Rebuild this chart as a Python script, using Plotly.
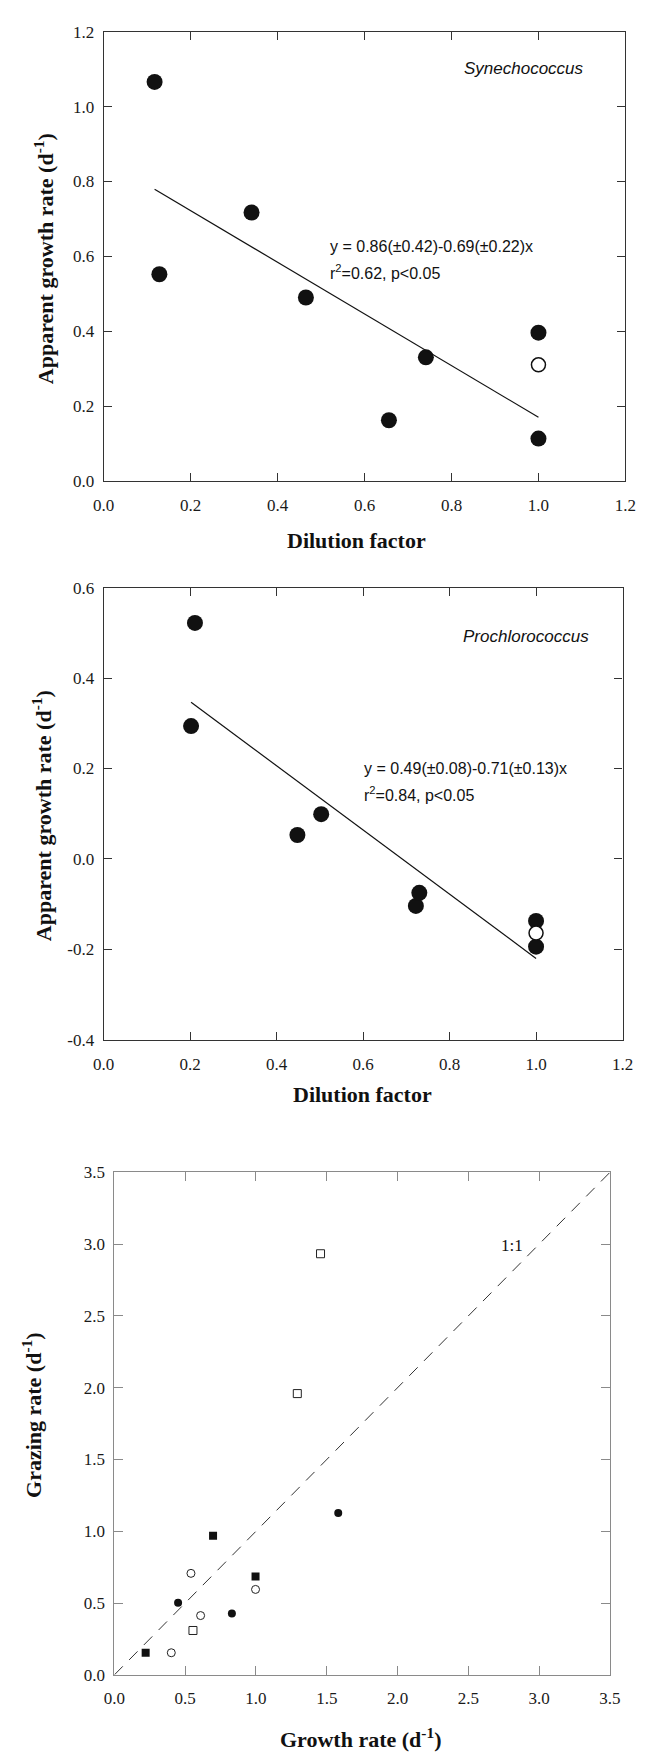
import plotly.graph_objects as go

W, H = 648, 1764

# ---------------- data ----------------
# Panel 1: Synechococcus
syn_x = [0.117, 0.128, 0.340, 0.465, 0.656, 0.741, 1.0, 1.0]
syn_y = [1.066, 0.552, 0.717, 0.490, 0.162, 0.330, 0.396, 0.113]
syn_open_x = [1.0]
syn_open_y = [0.31]
syn_intercept, syn_slope = 0.86, -0.69
syn_eq = ["y = 0.86(±0.42)-0.69(±0.22)x", "r<sup>2</sup>=0.62, p&lt;0.05"]

# Panel 2: Prochlorococcus
pro_x = [0.211, 0.202, 0.448, 0.503, 0.722, 0.730, 1.0, 1.0]
pro_y = [0.522, 0.294, 0.053, 0.099, -0.104, -0.075, -0.137, -0.194]
pro_open_x = [1.0]
pro_open_y = [-0.164]
pro_intercept, pro_slope = 0.49, -0.71
pro_eq = ["y = 0.49(±0.08)-0.71(±0.13)x", "r<sup>2</sup>=0.84, p&lt;0.05"]

# Panel 3: growth vs grazing
fsq_x = [0.221, 0.697, 0.997]
fsq_y = [0.154, 0.968, 0.685]
osq_x = [0.555, 1.292, 1.456]
osq_y = [0.309, 1.959, 2.933]
fci_x = [0.450, 0.830, 1.581]
fci_y = [0.502, 0.427, 1.128]
oci_x = [0.402, 0.541, 0.609, 0.997]
oci_y = [0.154, 0.707, 0.413, 0.595]
one_to_one = [0.0, 3.5]

ticks_01 = [0.0, 0.2, 0.4, 0.6, 0.8, 1.0, 1.2]
ticks_02y = [-0.4, -0.2, 0.0, 0.2, 0.4, 0.6]
ticks_3 = [0.0, 0.5, 1.0, 1.5, 2.0, 2.5, 3.0, 3.5]


def labels(vals):
    return ["%.1f" % v for v in vals]  # ASCII hyphen for negatives, as in the figure


def px_x(p):
    return p / W


def px_y(p):
    return 1 - p / H


SERIF = "Liberation Serif"
SANS = "Liberation Sans"
BLACK = "#111111"

fig = go.Figure()

# Panel 1
fig.add_trace(go.Scatter(x=syn_x, y=syn_y, mode="markers", xaxis="x", yaxis="y",
                         marker=dict(size=16, color=BLACK, line=dict(width=0))))
fig.add_trace(go.Scatter(x=syn_open_x, y=syn_open_y, mode="markers", xaxis="x", yaxis="y",
                         marker=dict(size=14, color="white", line=dict(width=1.5, color=BLACK))))
sx = [min(syn_x), max(syn_x)]
fig.add_trace(go.Scatter(x=sx, y=[syn_intercept + syn_slope * v for v in sx], mode="lines",
                         xaxis="x", yaxis="y", line=dict(color=BLACK, width=1.2)))

# Panel 2
fig.add_trace(go.Scatter(x=pro_x, y=pro_y, mode="markers", xaxis="x2", yaxis="y2",
                         marker=dict(size=16, color=BLACK, line=dict(width=0))))
fig.add_trace(go.Scatter(x=pro_open_x, y=pro_open_y, mode="markers", xaxis="x2", yaxis="y2",
                         marker=dict(size=14, color="white", line=dict(width=1.5, color=BLACK))))
pxr = [min(pro_x), max(pro_x)]
fig.add_trace(go.Scatter(x=pxr, y=[pro_intercept + pro_slope * v for v in pxr], mode="lines",
                         xaxis="x2", yaxis="y2", line=dict(color=BLACK, width=1.2)))

# Panel 3
fig.add_trace(go.Scatter(x=one_to_one, y=one_to_one, mode="lines", xaxis="x3", yaxis="y3",
                         line=dict(color="#333333", width=1, dash="12px,9px")))
fig.add_trace(go.Scatter(x=fsq_x, y=fsq_y, mode="markers", xaxis="x3", yaxis="y3",
                         marker=dict(symbol="square", size=8, color=BLACK, line=dict(width=0))))
fig.add_trace(go.Scatter(x=osq_x, y=osq_y, mode="markers", xaxis="x3", yaxis="y3",
                         marker=dict(symbol="square", size=8, color="white",
                                     line=dict(width=1, color="#222222"))))
fig.add_trace(go.Scatter(x=fci_x, y=fci_y, mode="markers", xaxis="x3", yaxis="y3",
                         marker=dict(symbol="circle", size=8, color=BLACK, line=dict(width=0))))
fig.add_trace(go.Scatter(x=oci_x, y=oci_y, mode="markers", xaxis="x3", yaxis="y3",
                         marker=dict(symbol="circle", size=8, color="white",
                                     line=dict(width=1, color="#222222"))))


def axis(domain, rng, tickvals, anchor, linecolor, lw, tlen, standoff):
    return dict(domain=domain, range=rng, tickmode="array", tickvals=tickvals,
                ticktext=labels(tickvals),
                anchor=anchor, showline=True, mirror="ticks", linecolor=linecolor,
                linewidth=lw, ticks="inside", ticklen=tlen, tickwidth=1,
                tickcolor=linecolor, showgrid=False, zeroline=False,
                tickfont=dict(family=SERIF, size=17, color="#1a1a1a"),
                ticklabelstandoff=standoff, fixedrange=True)


fig.update_layout(
    width=W, height=H, margin=dict(l=0, r=0, t=0, b=0),
    paper_bgcolor="white", plot_bgcolor="white", showlegend=False,
    xaxis=axis([px_x(96), px_x(636)], [0, 1.2], ticks_01, "y", "#333333", 1.3, 8, 9),
    yaxis=axis([px_y(477), px_y(23)], [0, 1.2], ticks_01, "x", "#333333", 1.3, 8, 5),
    xaxis2=axis([px_x(96), px_x(633)], [0, 1.2], ticks_01, "y2", "#333333", 1.3, 8, 9),
    yaxis2=axis([px_y(1042), px_y(585)], [-0.4, 0.6], ticks_02y, "x2", "#333333", 1.3, 8, 5),
    xaxis3=axis([px_x(107), px_x(620)], [0, 3.5], ticks_3, "y3", "#8a8a8a", 1, 9, 8),
    yaxis3=axis([px_y(1684), px_y(1176)], [0, 3.5], ticks_3, "x3", "#8a8a8a", 1, 9, 5),
)

ann = []
title_font = dict(family=SERIF, size=22, color=BLACK)
# x titles
for xc, yc, txt in [(358, 537, "<b>Dilution factor</b>"),
                    (364, 1097, "<b>Dilution factor</b>"),
                    (362, 1748, "<b>Growth rate (d<sup>-1</sup>)</b>")]:
    ann.append(dict(x=px_x(xc), y=px_y(yc), xref="paper", yref="paper", text=txt,
                    showarrow=False, xanchor="center", yanchor="middle", font=title_font))
# y titles
for xc, yc, txt in [(34, 252, "<b>Apparent growth rate (d<sup>-1</sup>)</b>"),
                    (32, 815, "<b>Apparent growth rate (d<sup>-1</sup>)</b>"),
                    (21, 1421, "<b>Grazing rate (d<sup>-1</sup>)</b>")]:
    ann.append(dict(x=px_x(xc), y=px_y(yc), xref="paper", yref="paper", text=txt,
                    textangle=-90, showarrow=False, xanchor="center", yanchor="middle",
                    font=title_font))

eq_font = dict(family=SANS, size=16, color=BLACK)
# equations
ann.append(dict(x=0.517, y=0.626, xref="x", yref="y", text=syn_eq[0], showarrow=False,
                xanchor="left", yanchor="middle", font=eq_font))
ann.append(dict(x=0.517, y=0.558, xref="x", yref="y", text=syn_eq[1], showarrow=False,
                xanchor="left", yanchor="middle", font=eq_font))
ann.append(dict(x=0.597, y=0.200, xref="x2", yref="y2", text=pro_eq[0], showarrow=False,
                xanchor="left", yanchor="middle", font=eq_font))
ann.append(dict(x=0.597, y=0.143, xref="x2", yref="y2", text=pro_eq[1], showarrow=False,
                xanchor="left", yanchor="middle", font=eq_font))
# species labels
ann.append(dict(x=0.967, y=1.103, xref="x", yref="y", text="<i>Synechococcus</i>",
                showarrow=False, xanchor="center", yanchor="middle",
                font=dict(family=SANS, size=17, color=BLACK)))
ann.append(dict(x=0.976, y=0.493, xref="x2", yref="y2", text="<i>Prochlorococcus</i>",
                showarrow=False, xanchor="center", yanchor="middle",
                font=dict(family=SANS, size=17, color=BLACK)))
# 1:1 label
ann.append(dict(x=2.81, y=2.99, xref="x3", yref="y3", text="1:1", showarrow=False,
                xanchor="center", yanchor="middle",
                font=dict(family=SERIF, size=17, color=BLACK)))

fig.update_layout(annotations=ann)
fig.write_html("out.html")
